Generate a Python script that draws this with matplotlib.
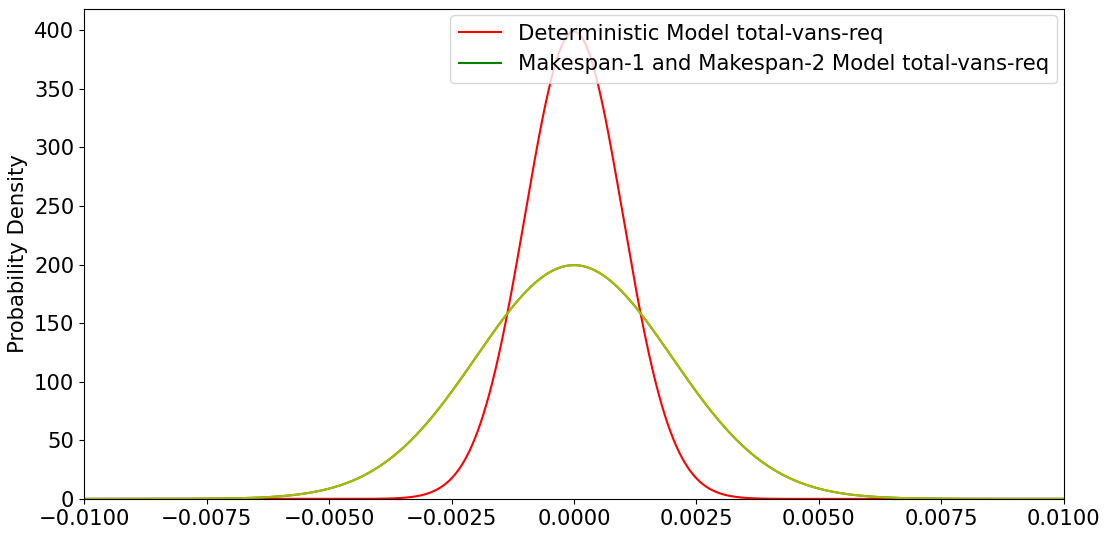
import numpy as np
import matplotlib
matplotlib.use("Agg")
import matplotlib.pyplot as plt

# distribution parameters (peak heights 400 and 200)
labels = ["Deterministic Model total-vans-req",
          "Makespan-1 and Makespan-2 Model total-vans-req"]
means = [0.0, 0.0, 0.0]
sigmas = [0.001, 0.002, 0.002]
colors = ["red", "green", "y"]

x = np.linspace(-0.01, 0.01, 2000)

def pdf(x, mu, sigma):
    return np.exp(-0.5 * ((x - mu) / sigma) ** 2) / (sigma * np.sqrt(2 * np.pi))

plt.rcParams["font.size"] = 15.2
fig = plt.figure(figsize=(11.07, 5.33), dpi=100)
ax = fig.add_axes([0.076, 0.064, 0.885, 0.919])

ax.plot(x, pdf(x, means[0], sigmas[0]), color=colors[0], label=labels[0])
ax.plot(x, pdf(x, means[1], sigmas[1]), color=colors[1], label=labels[1])
ax.plot(x, pdf(x, means[2], sigmas[2]), color=colors[2], alpha=0.92)

ax.set_xlim(-0.01, 0.01)
ax.set_ylim(0, 418)
ax.set_xticks(np.arange(-0.01, 0.01001, 0.0025))
ax.set_xticklabels(["−0.0100", "−0.0075", "−0.0050", "−0.0025", "0.0000",
                    "0.0025", "0.0050", "0.0075", "0.0100"])
ax.set_ylabel("Probability Density")
ax.legend(loc="upper right", borderaxespad=0.3)

fig.savefig("out.png", dpi=100)
